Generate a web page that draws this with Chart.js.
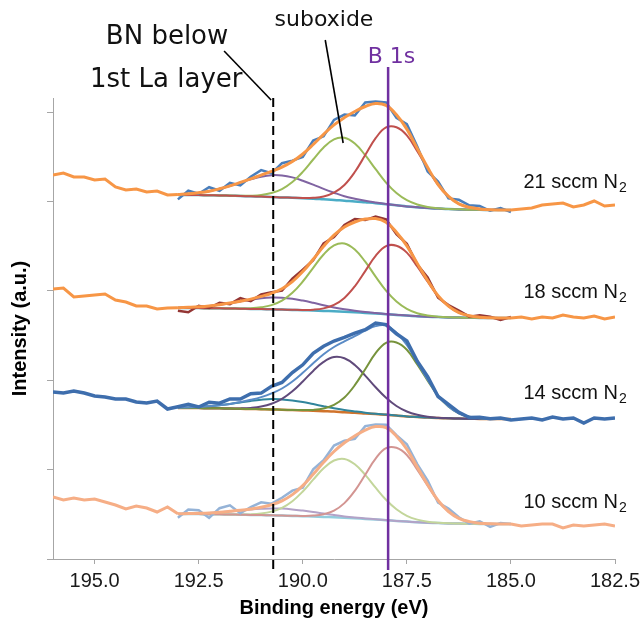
<!DOCTYPE html>
<html>
<head>
<meta charset="utf-8">
<script src="https://cdn.jsdelivr.net/npm/chart.js@4.4.1/dist/chart.umd.min.js"></script>
<style>
  html, body { margin: 0; padding: 0; background: #fff; }
</style>
</head>
<body>
<canvas id="xps" width="640" height="623"></canvas>
<script>
// binding energies (eV) of the measured points and of the fitted window
const rawEnergy = [196, 195.75, 195.5, 195.25, 195, 194.75, 194.5, 194.25, 194, 193.75, 193.5, 193.25,
  193, 192.75, 192.5, 192.25, 192, 191.75, 191.5, 191.25, 191, 190.75, 190.5, 190.25, 190, 189.75, 189.5,
  189.25, 189, 188.75, 188.5, 188.25, 188, 187.75, 187.5, 187.25, 187, 186.75, 186.5, 186.25, 186, 185.75,
  185.5, 185.25, 185, 184.75, 184.5, 184.25, 184, 183.75, 183.5, 183.25, 183, 182.75, 182.5];
const fitEnergy = [193, 192.75, 192.5, 192.25, 192, 191.75, 191.5, 191.25, 191, 190.75, 190.5, 190.25,
  190, 189.75, 189.5, 189.25, 189, 188.75, 188.5, 188.25, 188, 187.75, 187.5, 187.25, 187, 186.75, 186.5,
  186.25, 186, 185.75, 185.5, 185.25, 185];

// 21 sccm N2 (stacked, arbitrary offset)
const raw21 = [384, 386, 382, 382, 379, 380, 372, 369, 370, 367, 368, 364,
  359.6, 368.3, 365.3, 371.8, 368.2, 376.1, 373.6, 382.2, 388.9, 385.7, 395.8, 398.4, 402.0, 418.5, 422.7,
  439.1, 444.4, 443.5, 456.5, 457.5, 456.6, 441.2, 434.9, 412.6, 387.5, 377.5, 360.6, 359.2, 353.7, 353.0,
  348.2, 351, 347,
  350, 351, 354, 355, 356, 352, 354, 358, 353, 354];
const env21 = [364.6, 365.3, 366.3, 367.8, 370.2, 373.1, 376.6, 380.2, 383.9, 387.7, 391.8, 397.4, 405.0,
  414.5, 424.7, 434.1, 441.4, 447.5, 452.5, 455.5, 453.6, 444.2, 429.9, 410.6, 391.5, 374.5, 362.6, 355.2,
  351.7, 350.0, 349.2, 349, 349];
const bkg21 = [364, 364, 363.9, 363.7, 363.6, 363.3, 363, 362.7, 362.4, 362.1, 361.6, 361.2, 360.7, 360.3,
  359.7, 359.1, 358.3, 357.6, 356.7, 355.8, 354.7, 353.7, 352.6, 351.7, 350.9, 350.4, 349.9, 349.6, 349.3,
  349.2, 349, 349, 349];
const pur21 = [364.6, 365.3, 366.3, 367.8, 370.2, 373.0, 376.4, 379.6, 382.3, 383.8, 383.5, 381.6, 378.3,
  374.4, 370.1, 366.3, 362.8, 360.3, 358.2, 356.5, 355.0, 353.8, 352.6, 351.7, 350.9, 350.4, 349.9, 349.6,
  349.3, 349.2, 349, 349, 349];
const grn21 = [364, 364, 363.9, 363.7, 363.6, 363.4, 363.2, 363.3, 364.0, 366.0, 369.9, 376.9, 387.1, 399.5,
  411.5, 419.7, 421.2, 415.4, 403.8, 389.8, 376.4, 366.0, 358.8, 354.5, 352.0, 350.8, 350.0, 349.7, 349.3,
  349.2, 349, 349, 349];
const red21 = [364, 364, 363.9, 363.7, 363.6, 363.3, 363, 362.7, 362.4, 362.1, 361.6, 361.3, 361.0, 361.2,
  362.5, 366.3, 374.0, 387.0, 403.9, 420.8, 431.6, 431.8, 423.7, 407.8, 390.4, 374.1, 362.5, 355.1, 351.7,
  350.0, 349.2, 349, 349];

// 18 sccm N2
const raw18 = [270, 271, 262, 263, 264, 265, 259, 257, 253, 253, 250, 251,
  248.3, 246.7, 253.2, 251.0, 256.3, 254.9, 260.8, 257.9, 264.6, 266.7, 268.3, 280.4, 289.4, 298.7, 315.7,
  321.9, 334.0, 340.0, 338.9, 342.4, 339.7, 324.8, 315.2, 294.5, 281.5, 261.3, 253.9, 248.4, 242.3, 243.8,
  242.2, 239, 242,
  242, 240, 242, 241, 244, 242, 241, 243, 240, 242];
const env18 = [251.3, 251.7, 252.2, 253.0, 254.3, 255.9, 257.8, 259.9, 262.6, 265.7, 270.3, 277.4, 287.4,
  299.7, 312.7, 323.9, 332.0, 337.0, 339.9, 340.4, 336.7, 326.8, 313.2, 295.5, 278.5, 263.3, 252.9, 246.4,
  243.3, 241.8, 241.2, 241, 241];
const bkg18 = [251, 251, 250.9, 250.8, 250.7, 250.5, 250.3, 250.1, 249.9, 249.7, 249.4, 249.1, 248.8, 248.5,
  248.1, 247.7, 247.2, 246.7, 246.1, 245.5, 244.8, 244.1, 243.4, 242.8, 242.3, 241.9, 241.6, 241.4, 241.2,
  241.1, 241, 241, 241];
const pur18 = [251.3, 251.7, 252.2, 253.0, 254.3, 255.8, 257.6, 259.3, 260.8, 261.5, 261.3, 260.2, 258.4,
  256.2, 253.8, 251.6, 249.7, 248.2, 246.9, 245.9, 245.0, 244.2, 243.4, 242.8, 242.3, 241.9, 241.6, 241.4,
  241.2, 241.1, 241, 241, 241];
const grn18 = [251, 251, 250.9, 250.8, 250.7, 250.6, 250.5, 250.7, 251.7, 253.9, 258.4, 266.2, 277.5, 291.2,
  304.5, 313.6, 315.6, 309.5, 297.3, 282.4, 268.4, 257.5, 250.2, 245.8, 243.5, 242.3, 241.7, 241.5, 241.2,
  241.1, 241, 241, 241];
const red18 = [251, 251, 250.9, 250.8, 250.7, 250.5, 250.3, 250.1, 249.9, 249.7, 249.4, 249.2, 249.1, 249.3,
  250.6, 254.1, 261.1, 272.7, 287.9, 303.1, 312.9, 313.3, 306.4, 292.5, 277.3, 262.9, 252.8, 246.3, 243.3,
  241.8, 241.2, 241, 241];

// 14 sccm N2
const raw14 = [167, 166, 168, 166, 163, 162, 160, 160, 157, 156, 158, 150,
  152.3, 154.6, 152.0, 156.8, 155.8, 160.1, 160.0, 165.2, 165.9, 172.6, 176.5, 186.5, 194.2, 205.7, 212.8,
  218.0, 221.6, 225.8, 229.3, 235.9, 234.4, 225.2, 218.1, 197.7, 182.3, 162.5, 154.6, 146.6, 141.4, 141.8,
  140.2, 141, 139,
  140, 141, 139, 142, 140, 141, 136, 141, 140, 141];
const env14 = [151.3, 151.6, 152.0, 152.8, 153.8, 155.1, 157.0, 159.2, 161.9, 165.6, 170.5, 177.5, 186.2,
  195.7, 204.8, 212.0, 217.6, 222.8, 228.3, 232.9, 233.4, 226.2, 214.1, 196.7, 179.3, 163.5, 152.6, 145.6,
  142.4, 140.8, 140.2, 140, 140];
const bkg14 = [151, 151, 150.9, 150.8, 150.7, 150.4, 150.2, 150.0, 149.8, 149.6, 149.2, 148.9, 148.6, 148.2,
  147.8, 147.4, 146.8, 146.3, 145.6, 144.9, 144.2, 143.4, 142.6, 142.0, 141.4, 141.0, 140.7, 140.4, 140.2,
  140.1, 140, 140, 140];
const teal14 = [151.3, 151.6, 152.0, 152.8, 153.8, 155.0, 156.6, 158.1, 159.3, 160.0, 159.6, 158.6, 157.0,
  154.9, 152.8, 150.8, 149.0, 147.6, 146.3, 145.2, 144.4, 143.5, 142.6, 142.0, 141.4, 141.0, 140.7, 140.4,
  140.2, 140.1, 140, 140, 140];
const pur14 = [151, 151, 150.9, 150.8, 150.7, 150.5, 150.6, 151.1, 152.4, 155.2, 160.1, 167.7, 177.5, 188.1,
  197.1, 201.9, 200.7, 194.0, 183.4, 171.7, 161.2, 153.0, 147.5, 144.2, 142.3, 141.3, 140.8, 140.4, 140.2,
  140.1, 140, 140, 140];
const grn14 = [151, 151, 150.9, 150.8, 150.7, 150.4, 150.2, 150.0, 149.8, 149.6, 149.2, 149.0, 148.9, 149.1,
  150.5, 154.1, 161.5, 173.8, 189.8, 205.8, 216.2, 216.5, 209.2, 194.5, 178.4, 163.2, 152.5, 145.6, 142.4,
  140.8, 140.2, 140, 140];

// 10 sccm N2
const raw10 = [62, 59, 61, 59, 60, 57, 54, 50, 53, 51, 47, 52,
  41.2, 49.4, 48.7, 41.1, 50.8, 53.7, 45.7, 52.0, 56.7, 55.3, 61.2, 68.4, 71.4, 89.7, 98.7, 113.5, 118.2,
  120.1, 132.9, 134.4, 134.3, 123.8, 114.8, 94.9, 78.3, 56.5, 50.5, 41.7, 35.4, 37.8, 32.2, 36, 35,
  33, 34, 35, 35, 31, 34, 33, 34, 35, 33];
const env10 = [45.2, 45.4, 45.7, 46.1, 46.8, 47.7, 48.7, 50.0, 51.7, 54.3, 58.2, 64.4, 73.4, 84.7, 96.7,
  107.5, 116.2, 123.1, 128.9, 132.4, 131.3, 122.8, 109.8, 91.9, 74.3, 58.5, 47.5, 40.7, 37.4, 35.8, 35.2,
  35, 35];
const bkg10 = [45, 45, 44.9, 44.8, 44.7, 44.5, 44.3, 44.1, 43.9, 43.7, 43.4, 43.1, 42.8, 42.5, 42.1, 41.7,
  41.2, 40.7, 40.1, 39.5, 38.8, 38.1, 37.4, 36.8, 36.3, 35.9, 35.6, 35.4, 35.2, 35.1, 35, 35, 35];
const pur10 = [45.2, 45.4, 45.7, 46.1, 46.8, 47.6, 48.5, 49.5, 50.2, 50.6, 50.4, 49.6, 48.4, 47.0, 45.4,
  44.0, 42.6, 41.5, 40.6, 39.7, 38.9, 38.1, 37.4, 36.8, 36.3, 35.9, 35.6, 35.4, 35.2, 35.1, 35, 35, 35];
const grn10 = [45, 45, 44.9, 44.8, 44.7, 44.6, 44.5, 44.6, 45.4, 47.4, 51.2, 57.8, 67.5, 79.3, 90.7, 98.5,
  100.1, 94.8, 84.2, 71.3, 59.2, 49.7, 43.2, 39.4, 37.3, 36.3, 35.7, 35.5, 35.2, 35.1, 35, 35, 35];
const red10 = [45, 45, 44.9, 44.8, 44.7, 44.5, 44.3, 44.1, 43.9, 43.7, 43.4, 43.2, 43.1, 43.4, 44.8, 48.4,
  55.9, 68.2, 84.3, 100.4, 110.8, 111.2, 104.0, 89.3, 73.3, 58.1, 47.4, 40.6, 37.4, 35.8, 35.2, 35, 35];

const sampleLabels = ['21 sccm N', '18 sccm N', '14 sccm N', '10 sccm N'];
const sampleLabelY = [377, 267, 166, 57];
const xTicks = [195, 192.5, 190, 187.5, 185, 182.5];

const FONT = '"Liberation Sans", Arial, sans-serif';
const pts = (xs, ys) => xs.map((x, i) => ({ x, y: ys[i] }));
const fitStart = fitEnergy[0], fitEnd = fitEnergy[fitEnergy.length - 1];

// raw points before / after the fitted window, joined to the envelope ends
function leftRaw(raw, env) {
  const p = pts(rawEnergy, raw).filter(q => q.x > fitStart);
  p.push({ x: fitStart, y: env[0] });
  return p;
}
function rightRaw(raw, env) {
  const p = pts(rawEnergy, raw).filter(q => q.x < fitEnd);
  p.unshift({ x: fitEnd, y: env[env.length - 1] });
  return p;
}
const insideRaw = raw => pts(rawEnergy, raw).filter(q => q.x <= fitStart && q.x >= fitEnd);

function line(data, color, width, order, tension) {
  return { data, borderColor: color, borderWidth: width, order, tension, pointRadius: 0, fill: false };
}

function stack(raw, env, comps, bkg, c) {
  const out = [
    line(pts(fitEnergy, env), c.env, 3, 1, 0.4),
    line(leftRaw(raw, env), c.env, 3, 1, 0),
    line(rightRaw(raw, env), c.env, 3, 1, 0),
    line(insideRaw(raw), c.raw, 2.5, 2, 0),
  ];
  comps.forEach((cv, k) => out.push(line(pts(fitEnergy, cv), c.comps[k], 2, 3, 0.4)));
  out.push(line(pts(fitEnergy, bkg), c.bkg, 2.5, 4, 0.4));
  return out;
}

const datasets = [
  ...stack(raw21, env21, [red21, grn21, pur21], bkg21,
    { env: '#F79646', raw: '#4A7EBB', comps: ['#C0504D', '#9BBB59', '#8064A2'], bkg: '#4BACC6' }),
  ...stack(raw18, env18, [red18, grn18, pur18], bkg18,
    { env: '#F79646', raw: '#943634', comps: ['#C0504D', '#9BBB59', '#8064A2'], bkg: '#4BACC6' }),
  line(pts(rawEnergy, raw14), '#3E6EAD', 3.5, 1, 0),
  line(pts(fitEnergy, env14), '#5A8BC6', 2, 2, 0.4),
  line(pts(fitEnergy, grn14), '#77933C', 2, 3, 0.4),
  line(pts(fitEnergy, pur14), '#604A7B', 2, 3, 0.4),
  line(pts(fitEnergy, teal14), '#31859C', 2, 3, 0.4),
  line(pts(fitEnergy, bkg14), '#D0732B', 2.5, 4, 0.4),
  ...stack(raw10, env10, [red10, grn10, pur10], bkg10,
    { env: '#F6AE86', raw: '#95B3D7', comps: ['#D39592', '#C3D69B', '#B3A2C7'], bkg: '#93CDDD' }),
];

const annotate = {
  id: 'annotate',
  afterDraw(chart) {
    const { ctx, scales: { x, y } } = chart;
    const X = e => x.getPixelForValue(e), Y = v => y.getPixelForValue(v);
    ctx.save();
    // BN marker (dashed) and B 1s position (purple)
    ctx.strokeStyle = '#000'; ctx.lineWidth = 2; ctx.setLineDash([9, 5]);
    ctx.beginPath(); ctx.moveTo(X(190.71), Y(461)); ctx.lineTo(X(190.71), Y(-14)); ctx.stroke();
    ctx.setLineDash([]);
    ctx.strokeStyle = '#7030A0'; ctx.lineWidth = 2.5;
    ctx.beginPath(); ctx.moveTo(X(187.95), Y(492)); ctx.lineTo(X(187.95), Y(-11)); ctx.stroke();
    // leader lines
    ctx.strokeStyle = '#000'; ctx.lineWidth = 1.6;
    ctx.beginPath(); ctx.moveTo(X(191.89), Y(508)); ctx.lineTo(X(190.76), Y(459)); ctx.stroke();
    ctx.beginPath(); ctx.moveTo(X(189.46), Y(519)); ctx.lineTo(X(189.03), Y(416)); ctx.stroke();
    // callout texts
    ctx.textAlign = 'center'; ctx.textBaseline = 'middle';
    ctx.fillStyle = '#111';
    ctx.font = '26px "DejaVu Sans", sans-serif';
    ctx.fillText('BN below', X(193.26), Y(522));
    ctx.fillText('1st La layer', X(193.28), Y(479));
    ctx.font = '22px "DejaVu Sans", sans-serif';
    ctx.fillText('suboxide', X(189.49), Y(539));
    ctx.fillStyle = '#7030A0';
    ctx.fillText('B 1s', X(187.87), Y(502));
    // sample labels with subscript
    ctx.textAlign = 'left'; ctx.fillStyle = '#111';
    sampleLabels.forEach((t, i) => {
      const px = X(184.7), py = Y(sampleLabelY[i]);
      ctx.font = '20px ' + FONT;
      ctx.fillText(t, px, py);
      const w = ctx.measureText(t).width;
      ctx.font = '14px ' + FONT;
      ctx.fillText('2', px + w + 1, py + 6);
    });
    ctx.restore();
  }
};

new Chart(document.getElementById('xps'), {
  type: 'line',
  data: { datasets },
  plugins: [annotate],
  options: {
    responsive: false,
    animation: false,
    layout: { padding: { top: 98, right: 25, bottom: 0, left: 0 } },
    plugins: { legend: { display: false }, tooltip: { enabled: false } },
    scales: {
      x: {
        type: 'linear', reverse: true, min: 182.5, max: 196,
        afterFit: s => { s.height = 64; s.paddingLeft = 0; s.paddingRight = 0; },
        afterBuildTicks: s => { s.ticks = xTicks.map(v => ({ value: v })); },
        border: { color: '#A6A6A6', width: 1 },
        grid: { display: true, drawOnChartArea: false, drawTicks: true, tickLength: 5, color: '#A6A6A6' },
        ticks: { callback: v => v.toFixed(1), font: { family: FONT, size: 20 }, color: '#1a1a1a', padding: 5, maxRotation: 0, autoSkip: false },
        title: { display: true, text: 'Binding energy (eV)', font: { family: FONT, size: 20, weight: 'bold' }, color: '#000', padding: { top: 2, bottom: 3 } }
      },
      y: {
        min: 0, max: 461,
        afterFit: s => { s.width = 53; s.paddingTop = 0; s.paddingBottom = 0; },
        border: { color: '#A6A6A6', width: 1 },
        grid: { display: true, drawOnChartArea: false, drawTicks: true, tickLength: 6, color: '#A6A6A6' },
        ticks: { stepSize: 89.4, includeBounds: false, display: false },
        title: { display: true, text: 'Intensity (a.u.)', font: { family: FONT, size: 20, weight: 'bold' }, color: '#000', padding: { top: 8, bottom: 4 } }
      }
    }
  }
});
</script>
</body>
</html>
